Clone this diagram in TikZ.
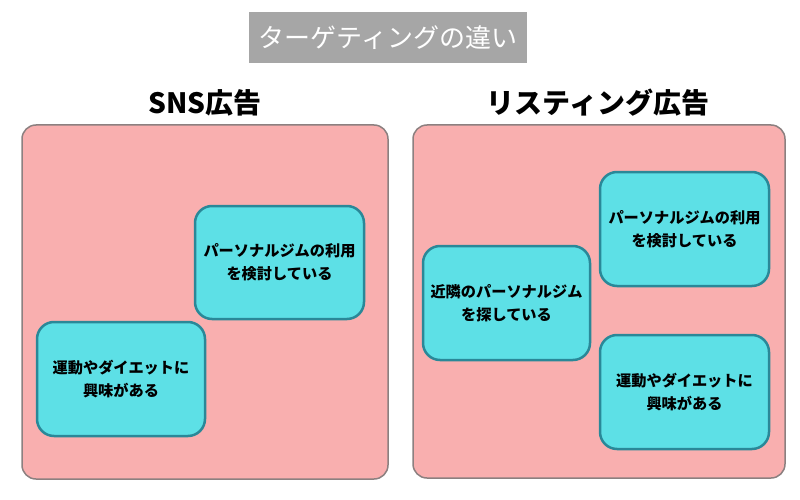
\documentclass[tikz,border=0pt]{standalone}
\usepackage{fontspec}
\newfontfamily\jp{Noto Sans CJK JP}
\definecolor{panelfill}{HTML}{F9AFAF}
\definecolor{panelline}{HTML}{8C8080}
\definecolor{cardfill}{HTML}{5DE0E6}
\definecolor{cardline}{HTML}{2A8898}
\definecolor{titlegray}{HTML}{A6A6A6}
\begin{document}
\begin{tikzpicture}[x=1pt,y=-1pt,
  panel/.style={draw=panelline,fill=panelfill,line width=1.5pt,rounded corners=14pt},
  card/.style={draw=cardline,fill=cardfill,line width=2.5pt,rounded corners=17pt},
  cardtext/.style={font=\jp\bfseries\fontsize{15.2}{23}\selectfont,align=center,text=black},
  heading/.style={font=\jp\bfseries\fontsize{28}{32}\selectfont,text=black}]
\useasboundingbox (0,0) rectangle (800,500);
\fill[white] (0,0) rectangle (800,500);
% title
\fill[titlegray] (249,12) rectangle (527,63);
\node[font=\jp\fontsize{26}{30}\selectfont,text=white] (title) at (388,38) {ターゲティングの違い};
% headings
\node[heading] (h1) at (205,103) {SNS広告};
\node[heading] (h2) at (598,103) {リスティング広告};
% panels
\draw[panel] (22,125) rectangle (388,479);
\draw[panel] (413,125) rectangle (785,478);
% left cards
\draw[card] (195,206) rectangle (364,319);
\node[cardtext] (a) at (279.5,262.5) {パーソナルジムの利用\\を検討している};
\draw[card] (37,322) rectangle (205,436);
\node[cardtext] (b) at (121,379) {運動やダイエットに\\興味がある};
% right cards
\draw[card] (423,246) rectangle (590,360);
\node[cardtext] (c) at (506.5,303) {近隣のパーソナルジム\\を探している};
\draw[card] (600,172) rectangle (769,286);
\node[cardtext] (d) at (684.5,229) {パーソナルジムの利用\\を検討している};
\draw[card] (600,335) rectangle (769,449);
\node[cardtext] (e) at (684.5,392) {運動やダイエットに\\興味がある};
\end{tikzpicture}
\end{document}
